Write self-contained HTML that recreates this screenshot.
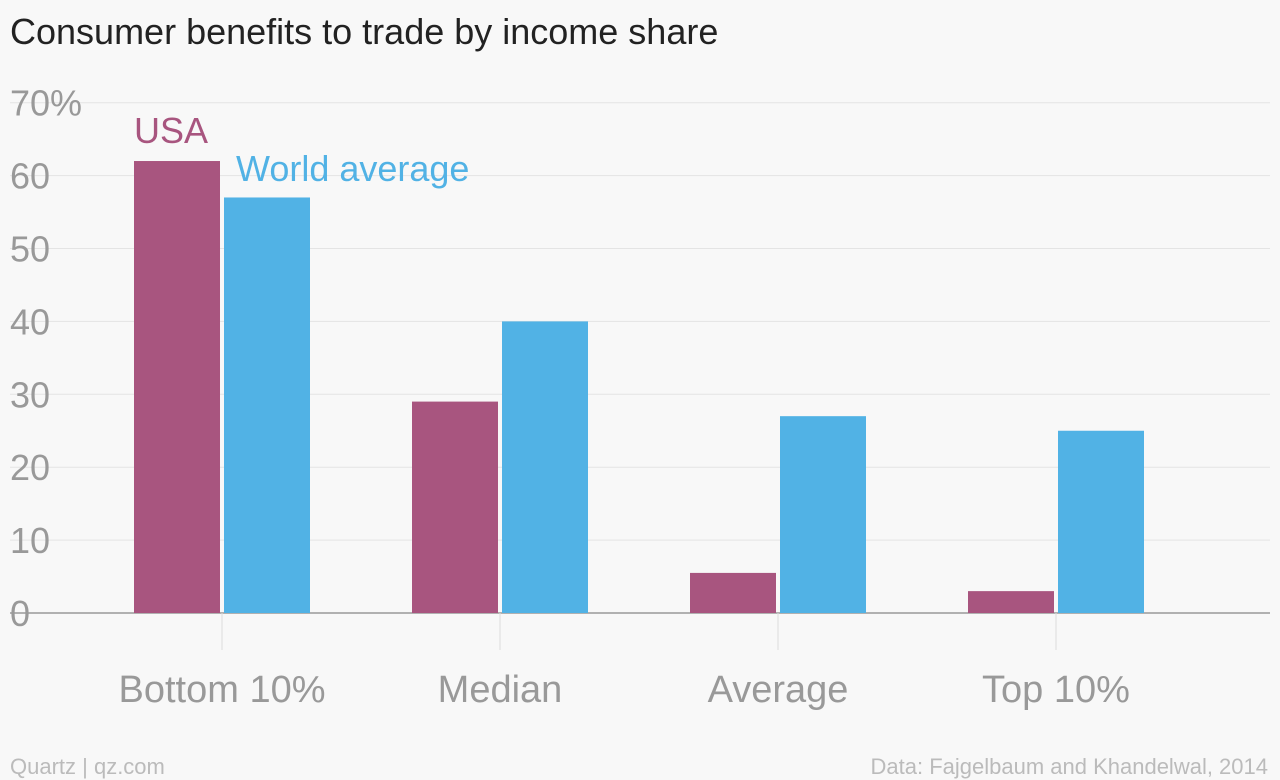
<!DOCTYPE html>
<html><head><meta charset="utf-8"><style>
body{margin:0;background:#f8f8f8;}
svg{display:block;font-family:"Liberation Sans",sans-serif;}
</style></head><body>
<svg width="1280" height="780">
<rect width="1280" height="780" fill="#f8f8f8"/>
<text x="10" y="44" font-size="36" fill="#222">Consumer benefits to trade by income share</text>
<g id="grid"></g><g id="bars"></g><g id="labels"></g>
<text x="134" y="143" font-size="36" fill="#a8557f">USA</text>
<text x="236" y="181" font-size="36" fill="#51b2e5">World average</text>
<text x="10" y="774" font-size="22" fill="#bbb">Quartz | qz.com</text>
<text x="1268" y="774" font-size="22" fill="#bbb" text-anchor="end">Data: Fajgelbaum and Khandelwal, 2014</text>
</svg>
<script>
const categories=["Bottom 10%","Median","Average","Top 10%"];
const usaValues=[62,29,5.5,3];
const worldValues=[57,40,27,25];
const yTicks=[0,10,20,30,40,50,60,70];
const yTickLabels=["0","10","20","30","40","50","60","70%"];
const NS="http://www.w3.org/2000/svg";
const y0=613,pxPer=7.29;
const y=v=>y0-v*pxPer;
const cx=i=>222+i*278;
function mk(tag,attrs,parent){const e=document.createElementNS(NS,tag);for(const k in attrs)e.setAttribute(k,attrs[k]);document.getElementById(parent).appendChild(e);return e;}
yTicks.forEach((t,i)=>{
 const l=mk("line",{x1:10,x2:1270,y1:y(t),y2:y(t),stroke:t===0?"#999":"#e4e4e4","stroke-width":t===0?1.5:1},"grid");
 
 
 const tx=mk("text",{x:10,y:y(t)+13,"font-size":36,fill:"#999"},"grid");
 tx.textContent=yTickLabels[i];
 
 
});
categories.forEach((c,i)=>{
 const tk=mk("line",{x1:cx(i),x2:cx(i),y1:y0,y2:650,stroke:"#ddd"},"grid");
 
 
 const b1=mk("rect",{x:cx(i)-88,y:y(usaValues[i]),width:86,height:usaValues[i]*pxPer,fill:"#a8557f"},"bars");
 
 
 const b2=mk("rect",{x:cx(i)+2,y:y(worldValues[i]),width:86,height:worldValues[i]*pxPer,fill:"#51b2e5"},"bars");
 
 
 const t=mk("text",{x:cx(i),y:702,"font-size":38,fill:"#999","text-anchor":"middle"},"labels");
 t.textContent=c;
 
 
});
</script>
</body></html>
